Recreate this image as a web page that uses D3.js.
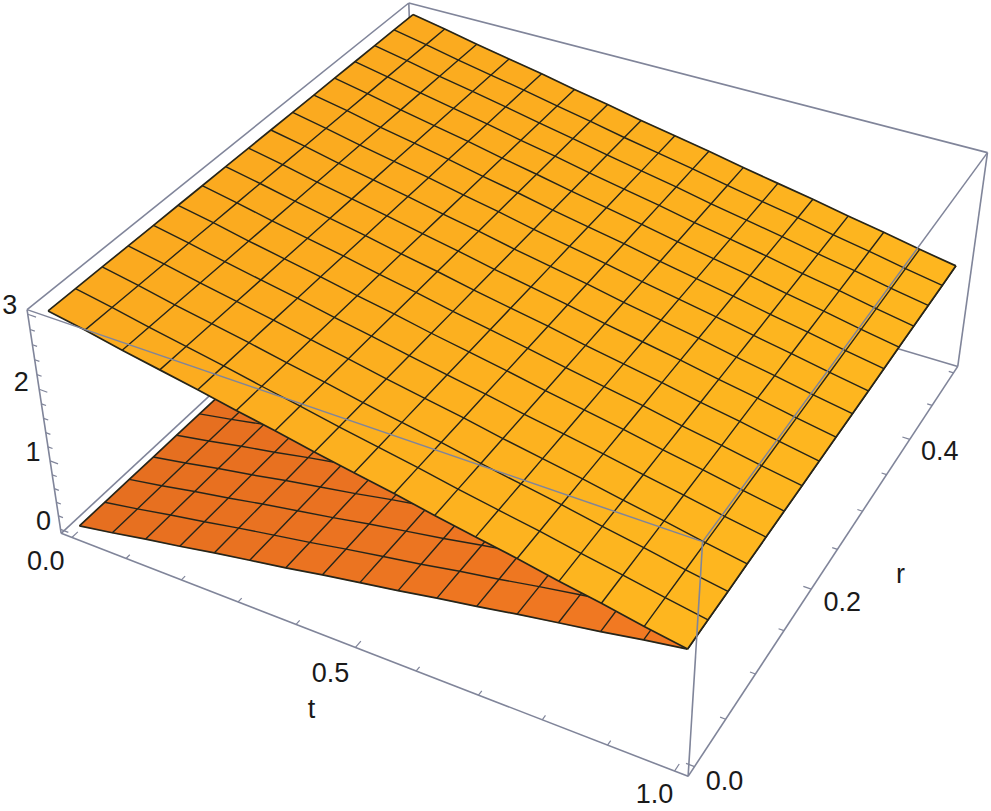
<!DOCTYPE html>
<html><head><meta charset="utf-8">
<script src="https://cdn.jsdelivr.net/npm/d3@7"></script>
<style>html,body{margin:0;padding:0;background:#fff}svg{display:block}text{font-family:"Liberation Sans",Arial,sans-serif;fill:#1a1a1a}</style>
</head><body><svg id="c" width="991" height="811"></svg>
<script>
// ---- data ----
const tGrid = [0,0.0625,0.125,0.1875,0.25,0.3125,0.375,0.4375,0.5,0.5625,0.625,0.6875,0.75,0.8125,0.875,0.9375,1];
const rGrid = [0,0.03125,0.0625,0.09375,0.125,0.15625,0.1875,0.21875,0.25,0.28125,0.3125,0.34375,0.375,0.40625,0.4375,0.46875,0.5];
const upperZ = [3,2.91,2.81,2.72,2.63,2.53,2.44,2.34,2.25,2.16,2.06,1.97,1.88,1.78,1.69,1.59,1.5];
const lowerZ = [0,0.09,0.19,0.28,0.38,0.47,0.56,0.66,0.75,0.84,0.94,1.03,1.13,1.22,1.31,1.41,1.5];
const tTicks = [0,0.5,1], tMinor = [0,0.1,0.2,0.3,0.4,0.5,0.6,0.7,0.8,0.9,1];
const rTicks = [0,0.2,0.4], rMinor = [0,0.05,0.1,0.15,0.2,0.25,0.3,0.35,0.4,0.45,0.5];
const zTicks = [0,1,2,3], zMinor = [0,0.2,0.4,0.6,0.8,1,1.2,1.4,1.6,1.8,2,2.2,2.4,2.6,2.8,3];
const tLabels = ["0.0","0.5","1.0"], rLabels = ["0.0","0.2","0.4"], zLabels = ["0","1","2","3"];

// ---- scales: padded plot range to the unit cube ----
const sx = d3.scaleLinear().domain([-0.02,1.02]).range([0,1]);
const sy = d3.scaleLinear().domain([-0.01,0.51]).range([0,1]);
const sz = d3.scaleLinear().domain([-0.06,3.06]).range([0,1]);

// ---- camera: projective map fitted to the seven visible corners of the box ----
const boxCorners = [
 [0,0,0, 61,533],[1,0,0, 688,776],[1,1,0, 958,367],
 [0,0,1, 27,310],[1,0,1, 703,542],[1,1,1, 987,152],[0,1,1, 409,3]];
function solve(A,b){const n=b.length,M=A.map((r,i)=>[...r,b[i]]);
 for(let i=0;i<n;i++){let p=i;for(let k=i+1;k<n;k++)if(Math.abs(M[k][i])>Math.abs(M[p][i]))p=k;[M[i],M[p]]=[M[p],M[i]];
  for(let k=0;k<n;k++){if(k===i)continue;const f=M[k][i]/M[i][i];for(let j=i;j<=n;j++)M[k][j]-=f*M[i][j];}}
 return M.map((r,i)=>r[n]/r[i]);}
const rows=[],rhs=[];
boxCorners.forEach(([u,v,w,X,Y])=>{
 rows.push([u,v,w,1,0,0,0,0,-X*u,-X*v,-X*w]);rhs.push(X);
 rows.push([0,0,0,0,u,v,w,1,-Y*u,-Y*v,-Y*w]);rhs.push(Y);});
const ATA=d3.range(11).map(i=>d3.range(11).map(j=>d3.sum(rows,r=>r[i]*r[j])));
const ATb=d3.range(11).map(i=>d3.sum(rows,(r,k)=>r[i]*rhs[k]));
const H=solve(ATA,ATb);
function proj(u,v,w){const d=H[8]*u+H[9]*v+H[10]*w+1;
 return [(H[0]*u+H[1]*v+H[2]*w+H[3])/d,(H[4]*u+H[5]*v+H[6]*w+H[7])/d];}
const P=(t,r,z)=>proj(sx(t),sy(r),sz(z));
const U=(u,v,w)=>proj(u,v,w);

const svg=d3.select("#c");
const line=d3.line();
const boxColor="#80859a";
function edge(g,a,b,w){g.append("path").attr("d",line([U(...a),U(...b)])).attr("fill","none").attr("stroke",boxColor).attr("stroke-width",w||1.6);}

// back edges
const back=svg.append("g");
edge(back,[0,0,0],[0,1,0]);edge(back,[1,1,0],[0,1,0]);edge(back,[0,1,0],[0,1,1]);

// surfaces
function surface(zs,c0,c1){
 const g=svg.append("g");
 const col=d3.scaleLinear().domain([0,1]).range([c0,c1]);
 for(let i=0;i<tGrid.length-1;i++)for(let j=0;j<rGrid.length-1;j++){
  const pts=[P(tGrid[i],rGrid[j],zs[i]),P(tGrid[i+1],rGrid[j],zs[i+1]),P(tGrid[i+1],rGrid[j+1],zs[i+1]),P(tGrid[i],rGrid[j+1],zs[i])];
  const c=col(tGrid[i]);
  g.append("path").attr("d",line(pts)+"Z").attr("fill",c).attr("stroke",c).attr("stroke-width",0.6);
 }
 const mesh="#26251a";
 tGrid.forEach((t,i)=>{g.append("path").attr("d",line(rGrid.map(r=>P(t,r,zs[i])))).attr("fill","none").attr("stroke",mesh).attr("stroke-width",(i===0||i===tGrid.length-1)?1.7:1.4);});
 rGrid.forEach((r,j)=>{g.append("path").attr("d",line(tGrid.map((t,i)=>P(t,r,zs[i])))).attr("fill","none").attr("stroke",mesh).attr("stroke-width",(j===0||j===rGrid.length-1)?1.7:1.4);});
}
surface(lowerZ,"#e66f20","#f27a22");
surface(upperZ,"#fbaa1f","#feb71f");

// front edges
const front=svg.append("g");
edge(front,[0,0,0],[1,0,0]);edge(front,[1,0,0],[1,1,0]);
edge(front,[0,0,0],[0,0,1]);edge(front,[1,0,0],[1,0,1]);edge(front,[1,1,0],[1,1,1]);
edge(front,[0,0,1],[1,0,1],1.5);edge(front,[1,0,1],[1,1,1],1.5);edge(front,[1,1,1],[0,1,1]);edge(front,[0,1,1],[0,0,1]);

// ticks
function tick(a,b){front.append("path").attr("d",line([a,b])).attr("fill","none").attr("stroke",boxColor).attr("stroke-width",1.2);}
tMinor.forEach(t=>{const L=tTicks.includes(t)?0.014:0.009;tick(U(sx(t),0,0),U(sx(t),L,0));});
rMinor.forEach(r=>{const L=rTicks.includes(r)?0.012:0.008;tick(U(1,sy(r),0),U(1-L,sy(r),0));});
zMinor.forEach(z=>{const L=zTicks.includes(z)?0.014:0.008;tick(U(0,0,sz(z)),U(L,0,sz(z)));});

// labels, offset from their tick
function label(p,dx,dy,s){svg.append("text").attr("x",p[0]+dx).attr("y",p[1]+dy).attr("text-anchor","middle").attr("dominant-baseline","central").attr("font-size",27).text(s);}
const tOff=[[-26,24],[-25,26],[-20,23]];
tTicks.forEach((t,i)=>label(U(sx(t),0,0),tOff[i][0],tOff[i][1],tLabels[i]));
const rOff=[[30,14],[31,13],[30,12]];
rTicks.forEach((r,i)=>label(U(1,sy(r),0),rOff[i][0],rOff[i][1],rLabels[i]));
const zOff=[[-17,-8],[-17,-9],[-18,-7],[-18,-9]];
zTicks.forEach((z,i)=>label(U(0,0,sz(z)),zOff[i][0],zOff[i][1],zLabels[i]));
label(U(sx(0.5),0,0),-44,62,"t");
label(U(1,sy(0.25),0),63,25,"r");
</script></body></html>
